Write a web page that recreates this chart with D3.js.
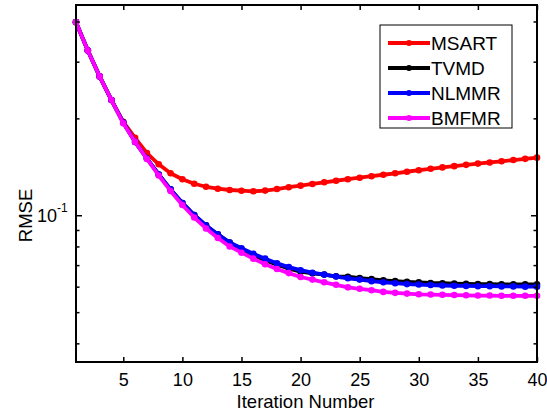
<!DOCTYPE html>
<html>
<head>
<meta charset="utf-8">
<script src="https://cdn.jsdelivr.net/npm/d3@7"></script>
<style>
  body { margin: 0; background: #fff; }
  svg text { font-family: Arial, "Liberation Sans", sans-serif; fill: #000; }
</style>
</head>
<body>
<div id="vis"></div>
<script>
// iteration numbers 1..40
var iterations = d3.range(1, 41);

var seriesNames = ["MSART", "TVMD", "NLMMR", "BMFMR"];
var seriesColors = ["#ff0000", "#000000", "#0000ff", "#ff00ff"];

// RMSE per iteration
var msart = [0.398, 0.325, 0.270, 0.228, 0.195, 0.174, 0.156, 0.144, 0.135, 0.1294,
             0.1253, 0.1226, 0.1209, 0.1198, 0.1192, 0.1187, 0.1193, 0.1206, 0.1222, 0.1236,
             0.1251, 0.1266, 0.1280, 0.1294, 0.1308, 0.1322, 0.1336, 0.1350, 0.1365, 0.1380,
             0.1394, 0.1408, 0.1421, 0.1434, 0.1447, 0.1459, 0.1471, 0.1484, 0.1497, 0.1510];
var tvmd = [0.398, 0.325, 0.270, 0.228, 0.194, 0.169, 0.1501, 0.1339, 0.1203, 0.1092,
            0.1002, 0.0930, 0.0872, 0.0823, 0.0781, 0.0751, 0.0725, 0.0702, 0.0683, 0.0668,
            0.0660, 0.0654, 0.0646, 0.0644, 0.0638, 0.0633, 0.0628, 0.0624, 0.0621, 0.0619,
            0.0616, 0.0615, 0.0613, 0.0612, 0.0611, 0.0611, 0.0610, 0.0610, 0.0610, 0.0610];
var nlmmr = [0.398, 0.325, 0.270, 0.228, 0.194, 0.169, 0.1501, 0.1339, 0.1203, 0.1092,
             0.1002, 0.0930, 0.0872, 0.0823, 0.0790, 0.0759, 0.0733, 0.0709, 0.0690, 0.0675,
             0.0663, 0.0654, 0.0645, 0.0637, 0.0631, 0.0624, 0.0619, 0.0615, 0.0611, 0.0609,
             0.0607, 0.0605, 0.0604, 0.0603, 0.0602, 0.0602, 0.0601, 0.0601, 0.0600, 0.0600];
var bmfmr = [0.398, 0.325, 0.270, 0.228, 0.193, 0.169, 0.1496, 0.1329, 0.1190, 0.1076,
             0.0984, 0.0910, 0.0850, 0.0800, 0.0765, 0.0733, 0.0704, 0.0681, 0.0661, 0.0643,
             0.0631, 0.0619, 0.0608, 0.0597, 0.0591, 0.0585, 0.0578, 0.0574, 0.0571, 0.0568,
             0.0567, 0.0566, 0.0565, 0.0564, 0.0563, 0.0563, 0.0562, 0.0562, 0.0562, 0.0562];

var xTicks = [5, 10, 15, 20, 25, 30, 35, 40];
var yMajorTicks = [0.1];
var yMinorTicks = [0.04, 0.05, 0.06, 0.07, 0.08, 0.09, 0.2, 0.3, 0.4];

var width = 547, height = 415;
var plotLeft = 76, plotRight = 537, plotTop = 5, plotBottom = 362;
var font = 18;

var svg = d3.select("#vis").append("svg")
    .attr("width", width)
    .attr("height", height);

var x = d3.scaleLinear().domain([1, 40]).range([plotLeft, plotRight]);
var y = d3.scaleLog().domain([0.035, 0.45]).range([plotBottom, plotTop]);

var allSeries = [msart, tvmd, nlmmr, bmfmr];

// curves
var line = d3.line()
    .x(function(d, i) { return x(iterations[i]); })
    .y(function(d) { return y(d); });

allSeries.forEach(function(values, k) {
    var g = svg.append("g").attr("class", "series");
    g.append("path")
        .datum(values)
        .attr("fill", "none")
        .attr("stroke", seriesColors[k])
        .attr("stroke-width", 3.8)
        .attr("stroke-linejoin", "round")
        .attr("d", line);
    g.selectAll("circle")
        .data(values)
        .enter().append("circle")
        .attr("cx", function(d, i) { return x(iterations[i]); })
        .attr("cy", function(d) { return y(d); })
        .attr("r", 3.3)
        .attr("fill", seriesColors[k]);
});

// axes box
svg.append("rect")
    .attr("x", plotLeft).attr("y", plotTop)
    .attr("width", plotRight - plotLeft).attr("height", plotBottom - plotTop)
    .attr("fill", "none").attr("stroke", "#000").attr("stroke-width", 2);

function styleAxis(g) {
    g.select(".domain").remove();
    g.selectAll(".tick line").attr("stroke", "#000").attr("stroke-width", 1.5);
    g.selectAll(".tick text").attr("font-size", font).attr("font-family", "Arial, 'Liberation Sans', sans-serif");
}

svg.append("g")
    .attr("transform", "translate(0," + plotBottom + ")")
    .call(d3.axisBottom(x).tickValues(xTicks).tickSize(-5).tickPadding(11))
    .call(styleAxis);

svg.append("g")
    .attr("transform", "translate(0," + plotTop + ")")
    .call(d3.axisTop(x).tickValues(xTicks).tickSize(-5).tickFormat(""))
    .call(styleAxis);

[["axisLeft", plotLeft], ["axisRight", plotRight]].forEach(function(a) {
    svg.append("g")
        .attr("transform", "translate(" + a[1] + ",0)")
        .call(d3[a[0]](y).tickValues(yMinorTicks).tickSize(-3.5).tickFormat(""))
        .call(styleAxis);
    svg.append("g")
        .attr("transform", "translate(" + a[1] + ",0)")
        .call(d3[a[0]](y).tickValues(yMajorTicks).tickSize(-6).tickFormat(""))
        .call(styleAxis);
});

// 10^-1 label
yMajorTicks.forEach(function(v) {
    var exp = Math.round(Math.log10(v));
    svg.append("text")
        .attr("x", plotLeft - 19).attr("y", y(v) + 7)
        .attr("text-anchor", "end")
        .attr("font-size", font)
        .text("10");
    svg.append("text")
        .attr("x", plotLeft - 19).attr("y", y(v) - 3)
        .attr("font-size", 12)
        .text("-" + Math.abs(exp));
});

// axis titles
svg.append("text")
    .attr("x", (plotLeft + plotRight) / 2 - 1).attr("y", 408)
    .attr("text-anchor", "middle")
    .attr("font-size", font + 0.5)
    .text("Iteration Number");

svg.append("text")
    .attr("transform", "translate(32," + ((plotTop + plotBottom) / 2 + 32) + ") rotate(-90)")
    .attr("text-anchor", "middle")
    .attr("font-size", font + 0.5)
    .text("RMSE");

// legend
var legend = svg.append("g").attr("transform", "translate(380,25)");
legend.append("rect")
    .attr("width", 132).attr("height", 103)
    .attr("fill", "#fff").attr("stroke", "#000").attr("stroke-width", 1);

var item = legend.selectAll(".item")
    .data(seriesNames)
    .enter().append("g")
    .attr("class", "item")
    .attr("transform", function(d, i) { return "translate(0," + (18 + i * 25) + ")"; });

item.append("line")
    .attr("x1", 8).attr("x2", 50)
    .attr("stroke", function(d, i) { return seriesColors[i]; })
    .attr("stroke-width", 3.8);
item.append("circle")
    .attr("cx", 29).attr("r", 3)
    .attr("fill", function(d, i) { return seriesColors[i]; });
item.append("text")
    .attr("x", 51).attr("y", 7)
    .attr("font-size", font + 1)
    .text(function(d) { return d; });
</script>
</body>
</html>
